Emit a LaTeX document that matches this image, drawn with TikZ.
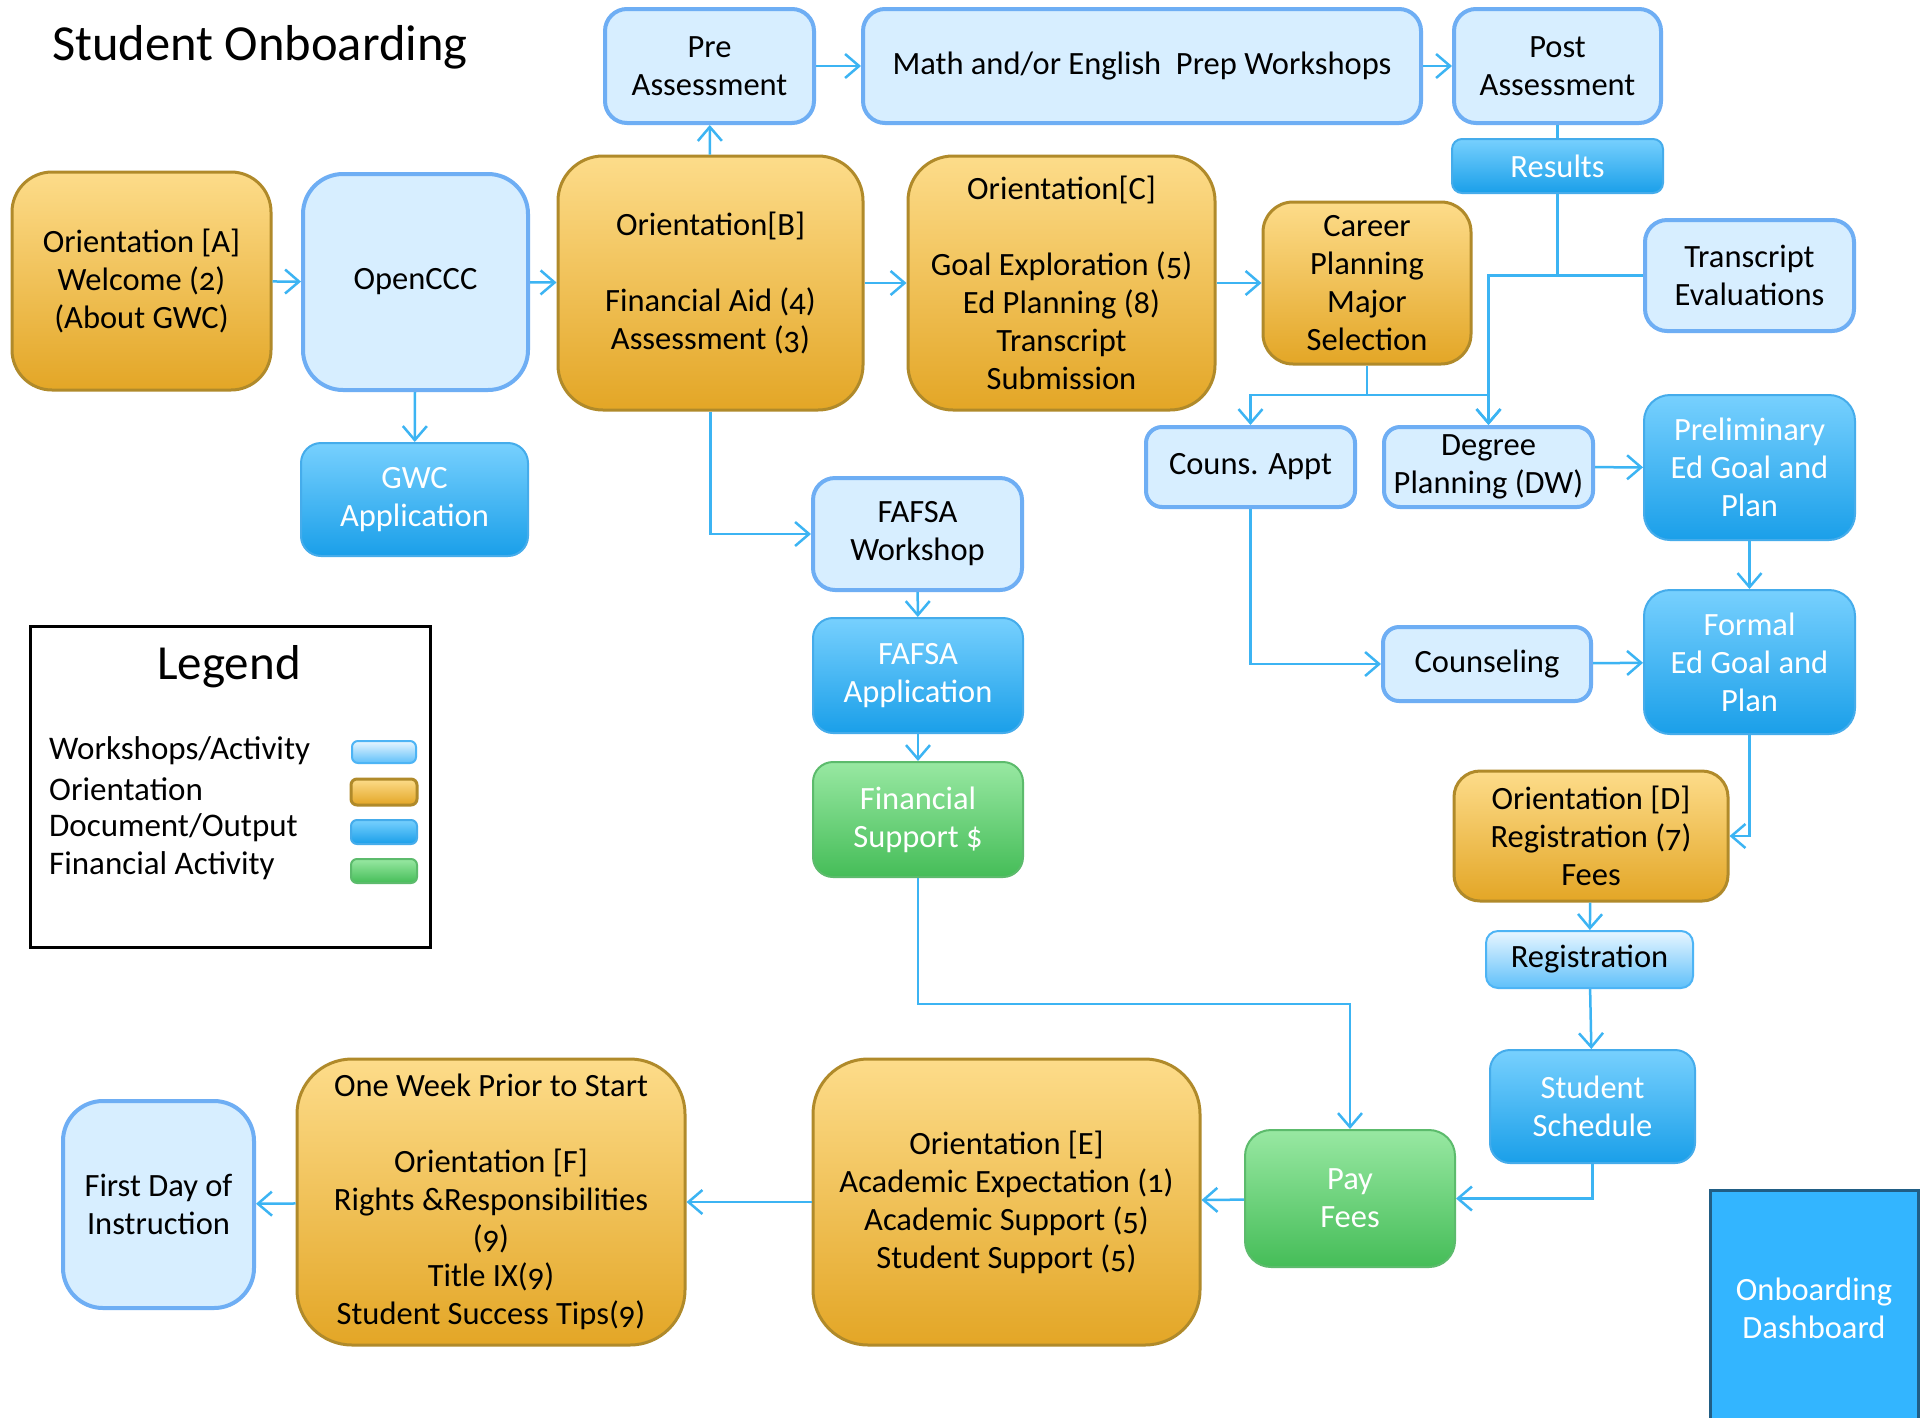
\documentclass[tikz,border=0pt]{standalone}
\usepackage{fontspec}
\setmainfont{Carlito}[Numbers=OldStyle]
\usetikzlibrary{arrows.meta}
\definecolor{wsfill}{HTML}{D7EEFF}
\definecolor{wsdraw}{HTML}{6EAEF4}
\definecolor{ortop}{HTML}{FDDC8A}
\definecolor{orbot}{HTML}{E3A626}
\definecolor{ordraw}{HTML}{B08A2A}
\definecolor{doctop}{HTML}{77D0FE}
\definecolor{docbot}{HTML}{1A9FE9}
\definecolor{docdraw}{HTML}{45ACEB}
\definecolor{fintop}{HTML}{98E8A2}
\definecolor{finbot}{HTML}{45BD58}
\definecolor{findraw}{HTML}{5CBB6C}
\definecolor{regtop}{HTML}{E8F6FF}
\definecolor{regbot}{HTML}{5FC0FA}
\definecolor{regdraw}{HTML}{4DB4F5}
\definecolor{lineblue}{HTML}{3CB4F3}
\definecolor{dashfill}{HTML}{33B5FF}
\definecolor{dashdraw}{HTML}{215E85}
\begin{document}
\begin{tikzpicture}[x=1pt,y=-1pt,
  base/.style={align=center, inner sep=0pt, font=\fontsize{32.5}{38}\selectfont},
  sz/.style 2 args={minimum width=#1pt, minimum height=#2pt},
  ws/.style={base, draw=wsdraw, fill=wsfill, line width=4pt, rounded corners=22pt},
  ori/.style={base, draw=ordraw, top color=ortop, bottom color=orbot, line width=3pt, rounded corners=40pt},
  doc/.style={base, draw=docdraw, top color=doctop, bottom color=docbot, line width=2pt, text=white, rounded corners=20pt},
  fin/.style={base, draw=findraw, top color=fintop, bottom color=finbot, line width=2pt, text=white, rounded corners=20pt},
  reg/.style={base, draw=regdraw, top color=regtop, bottom color=regbot, line width=2pt, rounded corners=12pt},
  plain/.style={draw=lineblue, line width=2.5pt},
  conn/.style={plain, -{Straight Barb[length=14pt,width=24pt]}},
]
\useasboundingbox (0,0) rectangle (1924,1417);
\fill[white] (0,0) rectangle (1924,1417);

% title
\node[anchor=west, inner sep=0pt, font=\fontsize{50.5}{56}\selectfont] (title) at (52,47) {Student Onboarding};

% top row
\node[ws, sz={209}{114}] (pre) at (709.5,66) {Pre\\Assessment};
\node[ws, sz={558}{114}] (math) at (1142,66) {Math and/or English\ \ Prep Workshops};
\node[ws, sz={207}{114}] (post) at (1557.5,66) {Post\\Assessment};
\node[doc, sz={211}{54}, rounded corners=10pt] (results) at (1557.5,166) {Results};

% second row
\node[ori, sz={259}{218}] (orA) at (141.5,281) {Orientation [A]\\Welcome (2)\\(About GWC)};
\node[ws, sz={225}{216}, rounded corners=40pt] (openccc) at (415.5,282) {OpenCCC};
\node[ori, sz={305}{254}, rounded corners=45pt] (orB) at (710.5,283) {Orientation[B]\\[38pt]Financial Aid (4)\\Assessment (3)};
\node[ori, sz={307}{254}, rounded corners=45pt] (orC) at (1061.5,283) {Orientation[C]\\[38pt]Goal Exploration (5)\\Ed Planning (8)\\Transcript\\Submission};
\node[ori, sz={208}{162}, rounded corners=30pt] (career) at (1367,283) {Career\\Planning\\Major\\Selection};
\node[ws, sz={209}{111}] (transcript) at (1749.5,275.5) {Transcript\\Evaluations};

\node[doc, sz={227}{113}] (gwc) at (414.5,499.5) {GWC\\Application};
\node[ws, sz={209}{80}, rounded corners=16pt] (couns) at (1250.5,467) {\raisebox{-4pt}{Couns. Appt}};
\node[ws, sz={209}{80}, rounded corners=16pt] (degree) at (1488.5,467) {Degree\\Planning (DW)};
\node[doc, sz={211}{145}, rounded corners=26pt] (prelim) at (1749.5,467.5) {Preliminary\\Ed Goal and\\Plan};

\node[ws, sz={209}{112}] (fafsaW) at (917.5,534) {FAFSA\\Workshop};
\node[doc, sz={210}{115}] (fafsaA) at (918,675.5) {FAFSA\\Application};
\node[fin, sz={210}{115}] (finsup) at (918,819.5) {Financial\\Support \$};
\node[ws, sz={208}{74}, rounded corners=16pt] (counseling) at (1487,664) {\raisebox{-3pt}{Counseling}};
\node[doc, sz={211}{144}, rounded corners=26pt] (formal) at (1749.5,662) {Formal\\Ed Goal and\\Plan};

\node[ori, sz={274}{130}, rounded corners=26pt] (orD) at (1591,836) {Orientation [D]\\Registration (7)\\Fees};
\node[reg, sz={207}{57}] (registration) at (1589.5,959.5) {\raisebox{-3pt}{Registration}};
\node[doc, sz={205}{113}] (schedule) at (1592.5,1106.5) {Student\\Schedule};
\node[fin, sz={210}{137}, rounded corners=26pt] (pay) at (1350,1198.5) {Pay\\Fees};

\node[ori, sz={387}{286}, rounded corners=55pt] (orE) at (1006.5,1202) {Orientation [E]\\Academic Expectation (1)\\Academic Support (5)\\Student Support (5)};
\node[ori, sz={388}{286}, rounded corners=55pt] (orF) at (491,1202) {One Week Prior to Start\\[38pt]Orientation [F]\\Rights \&Responsibilities\\(9)\\Title IX(9)\\Student Success Tips(9)};
\node[ws, sz={191}{207}, rounded corners=40pt] (first) at (158.5,1204.5) {First Day of\\Instruction};

\node[base, draw=dashdraw, fill=dashfill, line width=3pt, text=white, sz={208}{236}] (dash) at (1814,1308) {Onboarding\\Dashboard};

% legend
\node[draw=black, line width=3pt, sz={400}{321}, anchor=north west, inner sep=0pt] (legend) at (29,625) {};
\node[inner sep=0pt, font=\fontsize{49}{54}\selectfont] (legt) at (229,667) {Legend};
\node[anchor=west, inner sep=0pt, font=\fontsize{33}{36}\selectfont] (l1) at (49,751) {Workshops/Activity};
\node[anchor=west, inner sep=0pt, font=\fontsize{33}{36}\selectfont] (l2) at (49,789) {Orientation};
\node[anchor=west, inner sep=0pt, font=\fontsize{33}{36}\selectfont] (l3) at (49,828) {Document/Output};
\node[anchor=west, inner sep=0pt, font=\fontsize{33}{36}\selectfont] (l4) at (49,866) {Financial Activity};
\node[reg, sz={64}{22}, rounded corners=6pt] (s1) at (384,752) {};
\node[ori, sz={66}{26}, rounded corners=6pt] (s2) at (384,792) {};
\node[doc, sz={66}{24}, rounded corners=6pt] (s3) at (384,832) {};
\node[fin, sz={66}{24}, rounded corners=6pt] (s4) at (384,871) {};

% connectors
\draw[conn] (orA) -- (openccc);
\draw[conn] (openccc) -- (orB);
\draw[conn] (openccc) -- (gwc);
\draw[conn] (orB) -- (pre);
\draw[conn] (pre) -- (math);
\draw[conn] (math) -- (post);
\draw[plain] (post) -- (results);
\draw[conn] (orB) -- (orC);
\draw[conn] (orC) -- (career);
\draw[conn] (orB.south) |- (fafsaW.west);
\draw[conn] (fafsaW) -- (fafsaA);
\draw[conn] (fafsaA) -- (finsup);
\coordinate (b1) at (918,1004);
\draw[conn] (finsup.south) -- (b1) -| (pay.north);
\draw[plain] (results.south) -- (results.south |- transcript.west);
\draw[conn] (transcript.west) -| (degree.north);
\coordinate (cj) at (1367,395);
\draw[plain] (career.south) -- (cj);
\draw[conn] (cj) -| (couns.north);
\draw[conn] (cj) -| (degree.north);
\draw[conn] (degree) -- (prelim);
\draw[conn] (prelim) -- (formal);
\draw[conn] (couns.south) |- (counseling.west);
\draw[conn] (counseling) -- (formal);
\draw[conn] (formal.south) |- (orD.east);
\draw[conn] (orD) -- (registration);
\draw[conn] (registration) -- (schedule);
\draw[conn] (schedule.south) |- (pay.east);
\draw[conn] (pay) -- (orE);
\draw[conn] (orE) -- (orF);
\draw[conn] (orF) -- (first);
\end{tikzpicture}
\end{document}
